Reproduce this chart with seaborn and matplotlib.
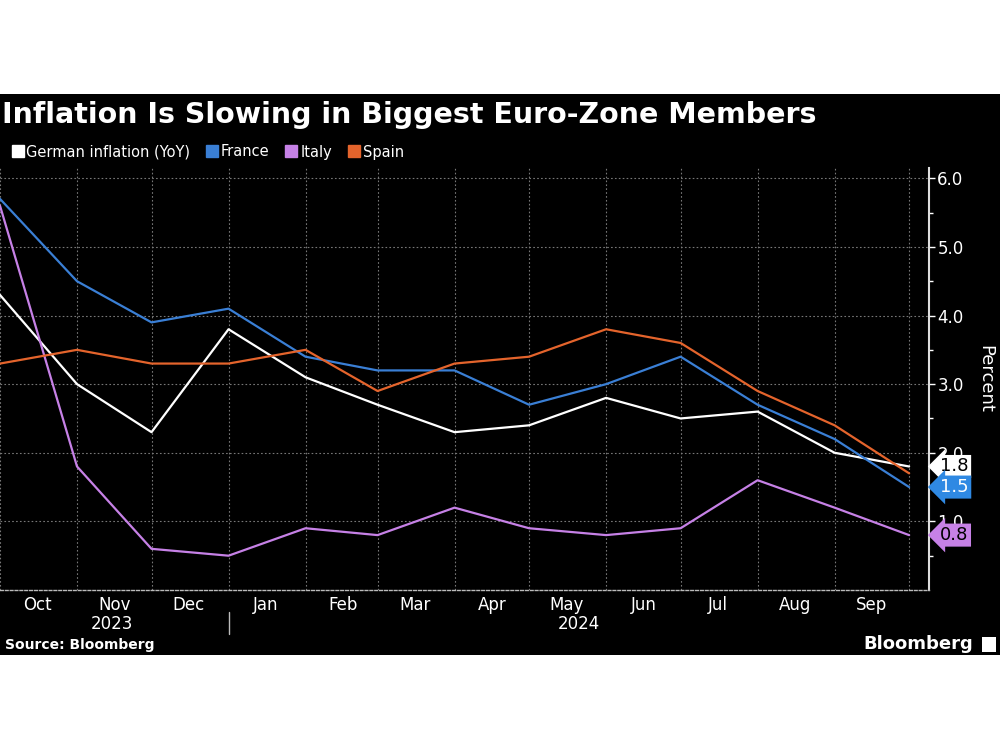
import pandas as pd
import matplotlib.pyplot as plt
import matplotlib.dates as mdates
import seaborn as sns
from matplotlib.patches import Rectangle
from matplotlib.lines import Line2D

# readings plotted at month starts, Oct 2023 .. Oct 2024
dates = pd.date_range('2023-10-01', periods=13, freq='MS')
germany = [4.3, 3.0, 2.3, 3.8, 3.1, 2.7, 2.3, 2.4, 2.8, 2.5, 2.6, 2.0, 1.8]
france = [5.7, 4.5, 3.9, 4.1, 3.4, 3.2, 3.2, 2.7, 3.0, 3.4, 2.7, 2.2, 1.5]
italy = [5.6, 1.8, 0.6, 0.5, 0.9, 0.8, 1.2, 0.9, 0.8, 0.9, 1.6, 1.2, 0.8]
spain = [3.3, 3.5, 3.3, 3.3, 3.5, 2.9, 3.3, 3.4, 3.8, 3.6, 2.9, 2.4, 1.7]

series = ['German inflation (YoY)', 'France', 'Italy', 'Spain']
colors = ['#ffffff', '#3a7fd5', '#c681e6', '#e4642c']
label_boxes = [('1.8', 1.8, '#ffffff', 'black'),
               ('1.5', 1.5, '#2f89e3', 'white'),
               ('0.8', 0.8, '#c681e6', 'black')]

df = pd.DataFrame({'date': list(dates) * 4,
                   'value': germany + france + italy + spain,
                   'country': [s for s in series for _ in dates]})

sns.set_style('dark')
plt.rcParams['font.family'] = ['DejaVu Sans']

fig = plt.figure(figsize=(10, 7.5), dpi=100, facecolor='white')
fig.patches.append(Rectangle((0, 1 - 655 / 750), 1, 561 / 750, transform=fig.transFigure,
                             fc='black', ec='none', zorder=-5))
ax = fig.add_axes([0.0, 1 - 590 / 750, 0.929, 422 / 750])
ax.set_facecolor('black')

sns.lineplot(data=df, x='date', y='value', hue='country', palette=colors,
             linewidth=1.6, legend=False, ax=ax)

ax.set_xlim(pd.Timestamp('2023-10-01'), pd.Timestamp('2024-10-09'))
ax.set_ylim(0, 6.15)

# x axis: gridlines at month starts, labels mid-month
ax.xaxis.set_major_locator(mdates.MonthLocator())
ax.xaxis.set_major_formatter(plt.NullFormatter())
ax.xaxis.set_minor_locator(mdates.MonthLocator(bymonthday=16))
ax.xaxis.set_minor_formatter(mdates.DateFormatter('%b'))
ax.tick_params(axis='x', which='both', length=0, colors='white', labelsize=12, pad=4)
ax.set_xlabel('')

# y axis on the right
ax.yaxis.tick_right()
ax.yaxis.set_label_position('right')
ax.set_yticks([1, 2, 3, 4, 5, 6])
ax.set_yticks([0.5, 1.5, 2.5, 3.5, 4.5, 5.5], minor=True)
ax.yaxis.set_major_formatter(plt.FormatStrFormatter('%.1f'))
ax.tick_params(axis='y', which='major', length=4, width=1, colors='white', labelsize=12, pad=2)
ax.tick_params(axis='y', which='minor', length=3, width=1, colors='white')
ax.set_ylabel('Percent', color='white', fontsize=13, rotation=270, labelpad=22)

ax.grid(True, which='major', color='#777777', linestyle=(0, (1.5, 2)), linewidth=0.8)
for s in ['top', 'left']:
    ax.spines[s].set_visible(False)
ax.spines['right'].set_color('#dddddd')
ax.spines['right'].set_linewidth(1.5)
ax.spines['bottom'].set_color('#bbbbbb')
ax.spines['bottom'].set_linestyle((0, (2, 1.5)))
ax.spines['bottom'].set_linewidth(1)

# year labels and separator
xf = ax.get_xaxis_transform()
ax.text(mdates.date2num(pd.Timestamp('2023-11-15')), -0.08, '2023', transform=xf,
        ha='center', va='center', color='white', fontsize=12)
x24 = (mdates.date2num(pd.Timestamp('2024-01-01')) + ax.get_xlim()[1]) / 2
ax.text(x24, -0.08, '2024', transform=xf, ha='center', va='center', color='white', fontsize=12)
ax.plot([pd.Timestamp('2024-01-01')] * 2, [-0.052, -0.105], transform=xf, color='#bbbbbb',
        linewidth=1, clip_on=False)

# end-of-line value tags
for txt, v, fc, tc in label_boxes:
    ax.annotate(txt, xy=(1, v), xycoords=('axes fraction', 'data'), xytext=(8, 0),
                textcoords='offset points', ha='left', va='center', fontsize=13, color=tc,
                bbox=dict(boxstyle='larrow,pad=0.14', fc=fc, ec='none'), zorder=10)

# title, legend, footer
fig.text(0.002, 1 - 115 / 750, 'Inflation Is Slowing in Biggest Euro-Zone Members',
         fontsize=20.5, fontweight='bold', color='white', va='center', ha='left')
handles = [Line2D([], [], marker='s', linestyle='none', markersize=8, color=c) for c in colors]
leg = fig.legend(handles, series, loc='center left', bbox_to_anchor=(0.0, 1 - 152 / 750),
                 ncol=4, frameon=False, fontsize=10.5, labelcolor='white',
                 handletextpad=0.1, columnspacing=1.0, borderaxespad=0.3, handlelength=1.0)
fig.text(0.005, 1 - 645 / 750, 'Source: Bloomberg', fontsize=10, fontweight='bold',
         color='white', va='center')
fig.text(0.973, 1 - 644 / 750, 'Bloomberg', fontsize=13, fontweight='bold',
         color='white', va='center', ha='right')
fig.patches.append(Rectangle((0.982, 1 - 652 / 750), 0.014, 15 / 750,
                             transform=fig.transFigure, fc='white', ec='none'))

fig.savefig('out.png', dpi=100, facecolor='white')
